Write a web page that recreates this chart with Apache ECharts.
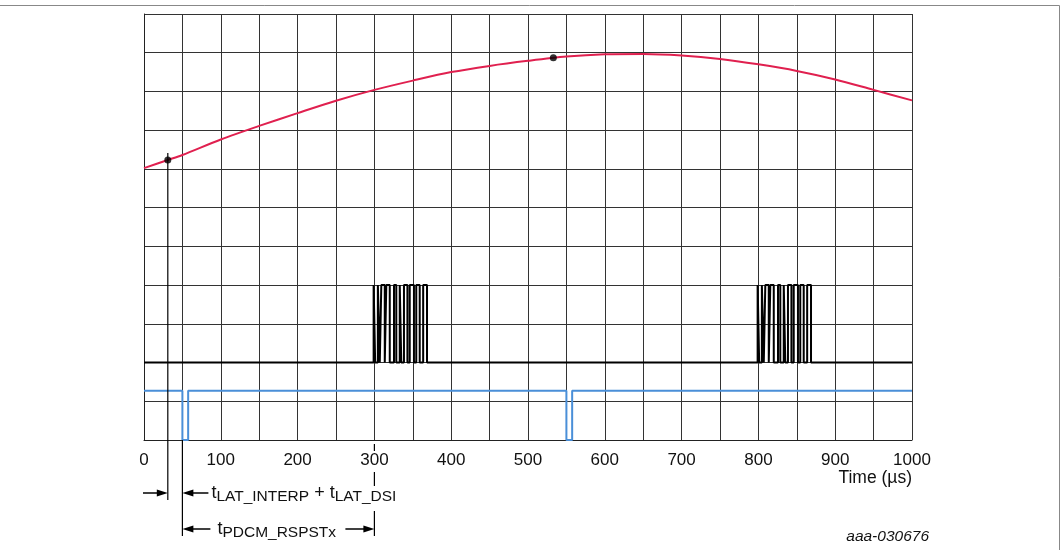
<!DOCTYPE html>
<html>
<head>
<meta charset="utf-8">
<script src="https://cdn.jsdelivr.net/npm/echarts@6/dist/echarts.min.js"></script>
<style>
    body { margin: 0; background: #fff; }
    #chart { width: 1064px; height: 550px; }
</style>
</head>
<body>
<div id="chart"></div>
<script>
    // x in µs, y in grid divisions (0 = bottom grid line, 11 = top one)
    var curveT = [0, 31, 50, 100, 150, 200, 250, 300, 350, 400, 450, 500, 550, 600, 650, 700, 750, 800, 850, 900, 950, 1000];
    var curveV = [7.02, 7.23, 7.36, 7.76, 8.11, 8.44, 8.76, 9.04, 9.28, 9.50, 9.66, 9.79, 9.90, 9.96, 9.97, 9.93, 9.84, 9.70, 9.53, 9.31, 9.04, 8.77];
    var dotsT = [31, 533];
    var dotsV = [7.23, 9.87];

    // rise / fall edges of the bus bursts (µs)
    var burst1 = [299, 301, 304.5, 307, 309, 313.5, 315.5, 320, 325.5, 328.5, 333, 335, 338.5, 343, 346, 351.5, 354.5, 359, 363.5, 368.5];
    var burst2 = [799, 801, 804.5, 807, 809, 813.5, 815.5, 820, 825.5, 828.5, 833, 835, 838.5, 843, 846, 851.5, 854.5, 859, 863.5, 868.5];
    var busLow = 2, busHigh = 4;

    // sync pulses: fall / rise edges (µs)
    var syncEdges = [50, 57.5, 550, 557.5];
    var syncHigh = 1.27, syncLow = 0;

    var markerT = 31, markerTop = 7.41;
    var latchT = 50, rspT = 300;

    function pulseLine(edges, base, active) {
        var d = [[0, base]];
        for (var i = 0; i < edges.length; i += 2) {
            d.push([edges[i], base], [edges[i], active], [edges[i + 1], active], [edges[i + 1], base]);
        }
        d.push([1000, base]);
        return d;
    }

    var curveData = curveT.map(function (t, i) { return [t, curveV[i]]; });
    var dotData = dotsT.map(function (t, i) { return [t, dotsV[i]]; });

    var FONT = '"Liberation Sans", Arial, sans-serif';
    var gridColor = '#333';

    var option = {
        animation: false,
        grid: { left: 144, right: 152, top: 14, bottom: 110 },
        xAxis: {
            type: 'value', min: 0, max: 1000, interval: 100,
            axisLine: { lineStyle: { color: '#222', width: 1 } },
            axisTick: { show: false },
            axisLabel: { fontSize: 17, color: '#111', fontFamily: FONT, margin: 12, formatter: function (v) { return String(v); } },
            splitLine: { show: true, lineStyle: { color: gridColor, width: 1 } },
            minorTick: { show: false, splitNumber: 2 },
            minorSplitLine: { show: true, lineStyle: { color: gridColor, width: 1 } }
        },
        yAxis: {
            type: 'value', min: 0, max: 11, interval: 1,
            axisLine: { show: true, lineStyle: { color: '#222', width: 1 } },
            axisTick: { show: false },
            axisLabel: { show: false },
            splitLine: { show: true, lineStyle: { color: gridColor, width: 1 } }
        },
        series: [
            {
                type: 'line', data: curveData, smooth: 0.3, showSymbol: false,
                lineStyle: { color: '#e0204f', width: 2 }
            },
            {
                type: 'line', data: pulseLine(burst1.concat(burst2), busLow, busHigh), showSymbol: false,
                lineStyle: { color: '#000', width: 2 }
            },
            {
                type: 'line', data: pulseLine(syncEdges, syncHigh, syncLow), showSymbol: false,
                lineStyle: { color: '#4a8fd8', width: 2 }
            },
            {
                type: 'scatter', data: dotData, symbolSize: 7,
                itemStyle: { color: '#000' }, z: 5
            }
        ]
    };

    var chart = echarts.init(document.getElementById('chart'));
    chart.setOption(option);

    // annotations under the plot
    var ctx = document.createElement('canvas').getContext('2d');
    function tw(s, size) { ctx.font = size + 'px ' + FONT; return ctx.measureText(s).width; }
    function px(t, v) { return chart.convertToPixel({ gridIndex: 0 }, [t, v]); }

    var g = [];
    function vline(x, y1, y2) {
        g.push({ type: 'line', shape: { x1: x, y1: y1, x2: x, y2: y2 }, style: { stroke: '#000', lineWidth: 1.2 }, z: 10 });
    }
    function arrow(xFrom, xTo, y) {
        var dir = xTo > xFrom ? 1 : -1;
        g.push({ type: 'line', shape: { x1: xFrom, y1: y, x2: xTo - dir * 6, y2: y }, style: { stroke: '#000', lineWidth: 1.5 }, z: 10 });
        g.push({ type: 'polygon', shape: { points: [[xTo, y], [xTo - dir * 11, y - 3.5], [xTo - dir * 11, y + 3.5]] }, style: { fill: '#000' }, z: 10 });
    }
    function subText(parts, x, y) {
        parts.forEach(function (p) {
            var size = p[1] ? 15.5 : 18;
            g.push({
                type: 'text', x: x, y: y + (p[1] ? 3.5 : 0), z: 10,
                style: { text: p[0], font: size + 'px ' + FONT, fill: '#111', textVerticalAlign: 'middle' }
            });
            x += tw(p[0], size);
        });
    }

    var xm = px(markerT, 0)[0], xl = px(latchT, 0)[0], xr = px(rspT, 0)[0], x0 = px(0, 0)[0];
    var yTop = px(markerT, markerTop)[1], yAxis = px(0, 0)[1];

    vline(xm, yTop, 500);
    vline(xl, yAxis, 536);
    vline(xr, yAxis + 4, 451);
    vline(xr, 472, 486);
    vline(xr, 511, 536);

    arrow(x0 - 1, xm, 493);
    arrow(xl + 26, xl, 493);
    subText([['t', 0], ['LAT_INTERP', 1], [' + t', 0], ['LAT_DSI', 1]], xl + 29, 493);

    arrow(xl + 28, xl, 529);
    arrow(xr - 29, xr, 529);
    subText([['t', 0], ['PDCM_RSPSTx', 1]], xl + 35, 529);

    g.push({ type: 'text', x: px(1000, 0)[0], y: 478, z: 10,
        style: { text: 'Time (µs)', font: '17.5px ' + FONT, fill: '#111', textAlign: 'right', textVerticalAlign: 'middle' } });
    g.push({ type: 'text', x: 929, y: 537, z: 10,
        style: { text: 'aaa-030676', font: 'italic 15.5px ' + FONT, fill: '#111', textAlign: 'right', textVerticalAlign: 'middle' } });

    // frame of the figure
    g.push({ type: 'line', shape: { x1: 0, y1: 5.5, x2: 1059.5, y2: 5.5 }, style: { stroke: '#888', lineWidth: 1 } });
    g.push({ type: 'line', shape: { x1: 1059.5, y1: 5.5, x2: 1059.5, y2: 550 }, style: { stroke: '#888', lineWidth: 1 } });

    chart.setOption({ graphic: g });
</script>
</body>
</html>
